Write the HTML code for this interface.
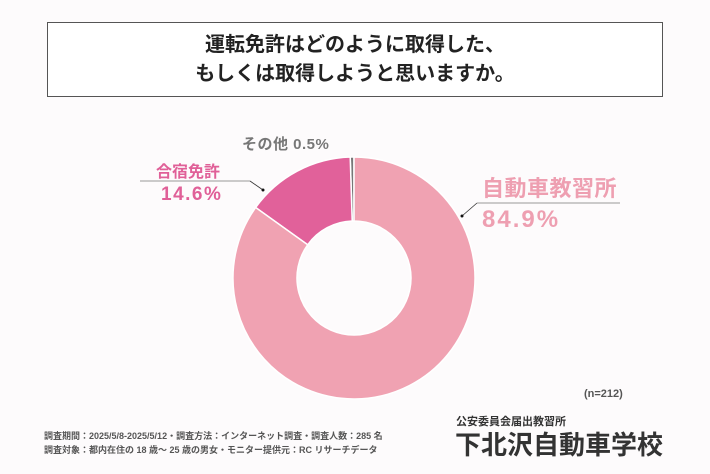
<!DOCTYPE html>
<html><head><meta charset="utf-8"><style>
body{margin:0;width:710px;height:474px;background:#fdfbfc;font-family:"Liberation Sans","Noto Sans CJK JP",sans-serif;position:relative;overflow:hidden}
.t{position:absolute;white-space:nowrap}
</style></head><body>
<div style="position:absolute;left:47px;top:22px;width:616px;height:75px;border:1.5px solid #555;background:#fff;box-sizing:border-box;text-align:center;font-weight:bold;font-size:20px;line-height:29px;padding-top:8px;color:#222">運転免許はどのように取得した、<br>もしくは取得しようと思いますか。</div>
<svg id="chart" width="710" height="474" style="position:absolute;left:0;top:0">
<line x1="140" y1="181" x2="250" y2="181" stroke="#777" stroke-width="0.8"/>
<line x1="250" y1="181" x2="263" y2="190" stroke="#333" stroke-width="0.8"/>
<circle cx="263" cy="190" r="1.5" fill="#111"/>
<line x1="620" y1="203" x2="477" y2="203" stroke="#777" stroke-width="0.8"/>
<line x1="477" y1="203" x2="462" y2="216" stroke="#333" stroke-width="0.8"/>
<circle cx="462" cy="216" r="1.5" fill="#111"/>
</svg>
<div class="t" style="left:242px;top:133px;font-size:15px;font-weight:bold;color:#777;letter-spacing:0.5px">その他 0.5%</div>
<div class="t" style="left:156px;top:158px;font-size:16px;font-weight:bold;color:#e06098">合宿免許</div>
<div class="t" style="left:161px;top:184px;font-size:19px;font-weight:bold;color:#e06098;letter-spacing:1.5px">14.6%</div>
<div class="t" style="left:482px;top:171px;font-size:22px;font-weight:bold;color:#ee9fb1;letter-spacing:0.5px">自動車教習所</div>
<div class="t" style="left:482px;top:206px;font-size:24px;font-weight:bold;color:#ee9fb1;letter-spacing:2px">84.9%</div>
<div class="t" style="left:584px;top:388px;font-size:11px;font-weight:bold;color:#555">(n=212)</div>
<div class="t" style="left:44px;top:429px;font-size:9px;font-weight:bold;color:#555">調査期間：2025/5/8-2025/5/12・調査方法：インターネット調査・調査人数：285 名</div>
<div class="t" style="left:44px;top:443px;font-size:9px;font-weight:bold;color:#555">調査対象：都内在住の 18 歳～ 25 歳の男女・モニター提供元：RC リサーチデータ</div>
<div class="t" style="left:456px;top:413px;font-size:11px;font-weight:bold;color:#333">公安委員会届出教習所</div>
<div class="t" style="left:455px;top:425px;font-size:26px;font-weight:bold;color:#333">下北沢自動車学校</div>
<script>
const categories=["自動車教習所","合宿免許","その他"];
const values=[84.9,14.6,0.5];
const colors=["#f0a2b2","#e1619a","#777777"];
const svg=document.getElementById('chart');
const cx=354,cy=278,R=121,r=57;
const total=values.reduce((a,b)=>a+b,0);
function pt(a,rad){return [cx+rad*Math.sin(a),cy-rad*Math.cos(a)];}
let acc=0;
values.forEach((v,i)=>{
  const a0=acc/total*2*Math.PI;acc+=v;const a1=acc/total*2*Math.PI;
  const lg=(a1-a0)>Math.PI?1:0;
  const [x0,y0]=pt(a0,R),[x1,y1]=pt(a1,R),[x2,y2]=pt(a1,r),[x3,y3]=pt(a0,r);
  const p=document.createElementNS('http://www.w3.org/2000/svg','path');
  p.setAttribute('d',`M${x0},${y0}A${R},${R} 0 ${lg} 1 ${x1},${y1}L${x2},${y2}A${r},${r} 0 ${lg} 0 ${x3},${y3}Z`);
  p.setAttribute('fill',colors[i]);
  p.setAttribute('stroke','#fff');
  p.setAttribute('stroke-width','1.5');
  
  
  svg.insertBefore(p,svg.firstChild);
});
</script>
</body></html>
